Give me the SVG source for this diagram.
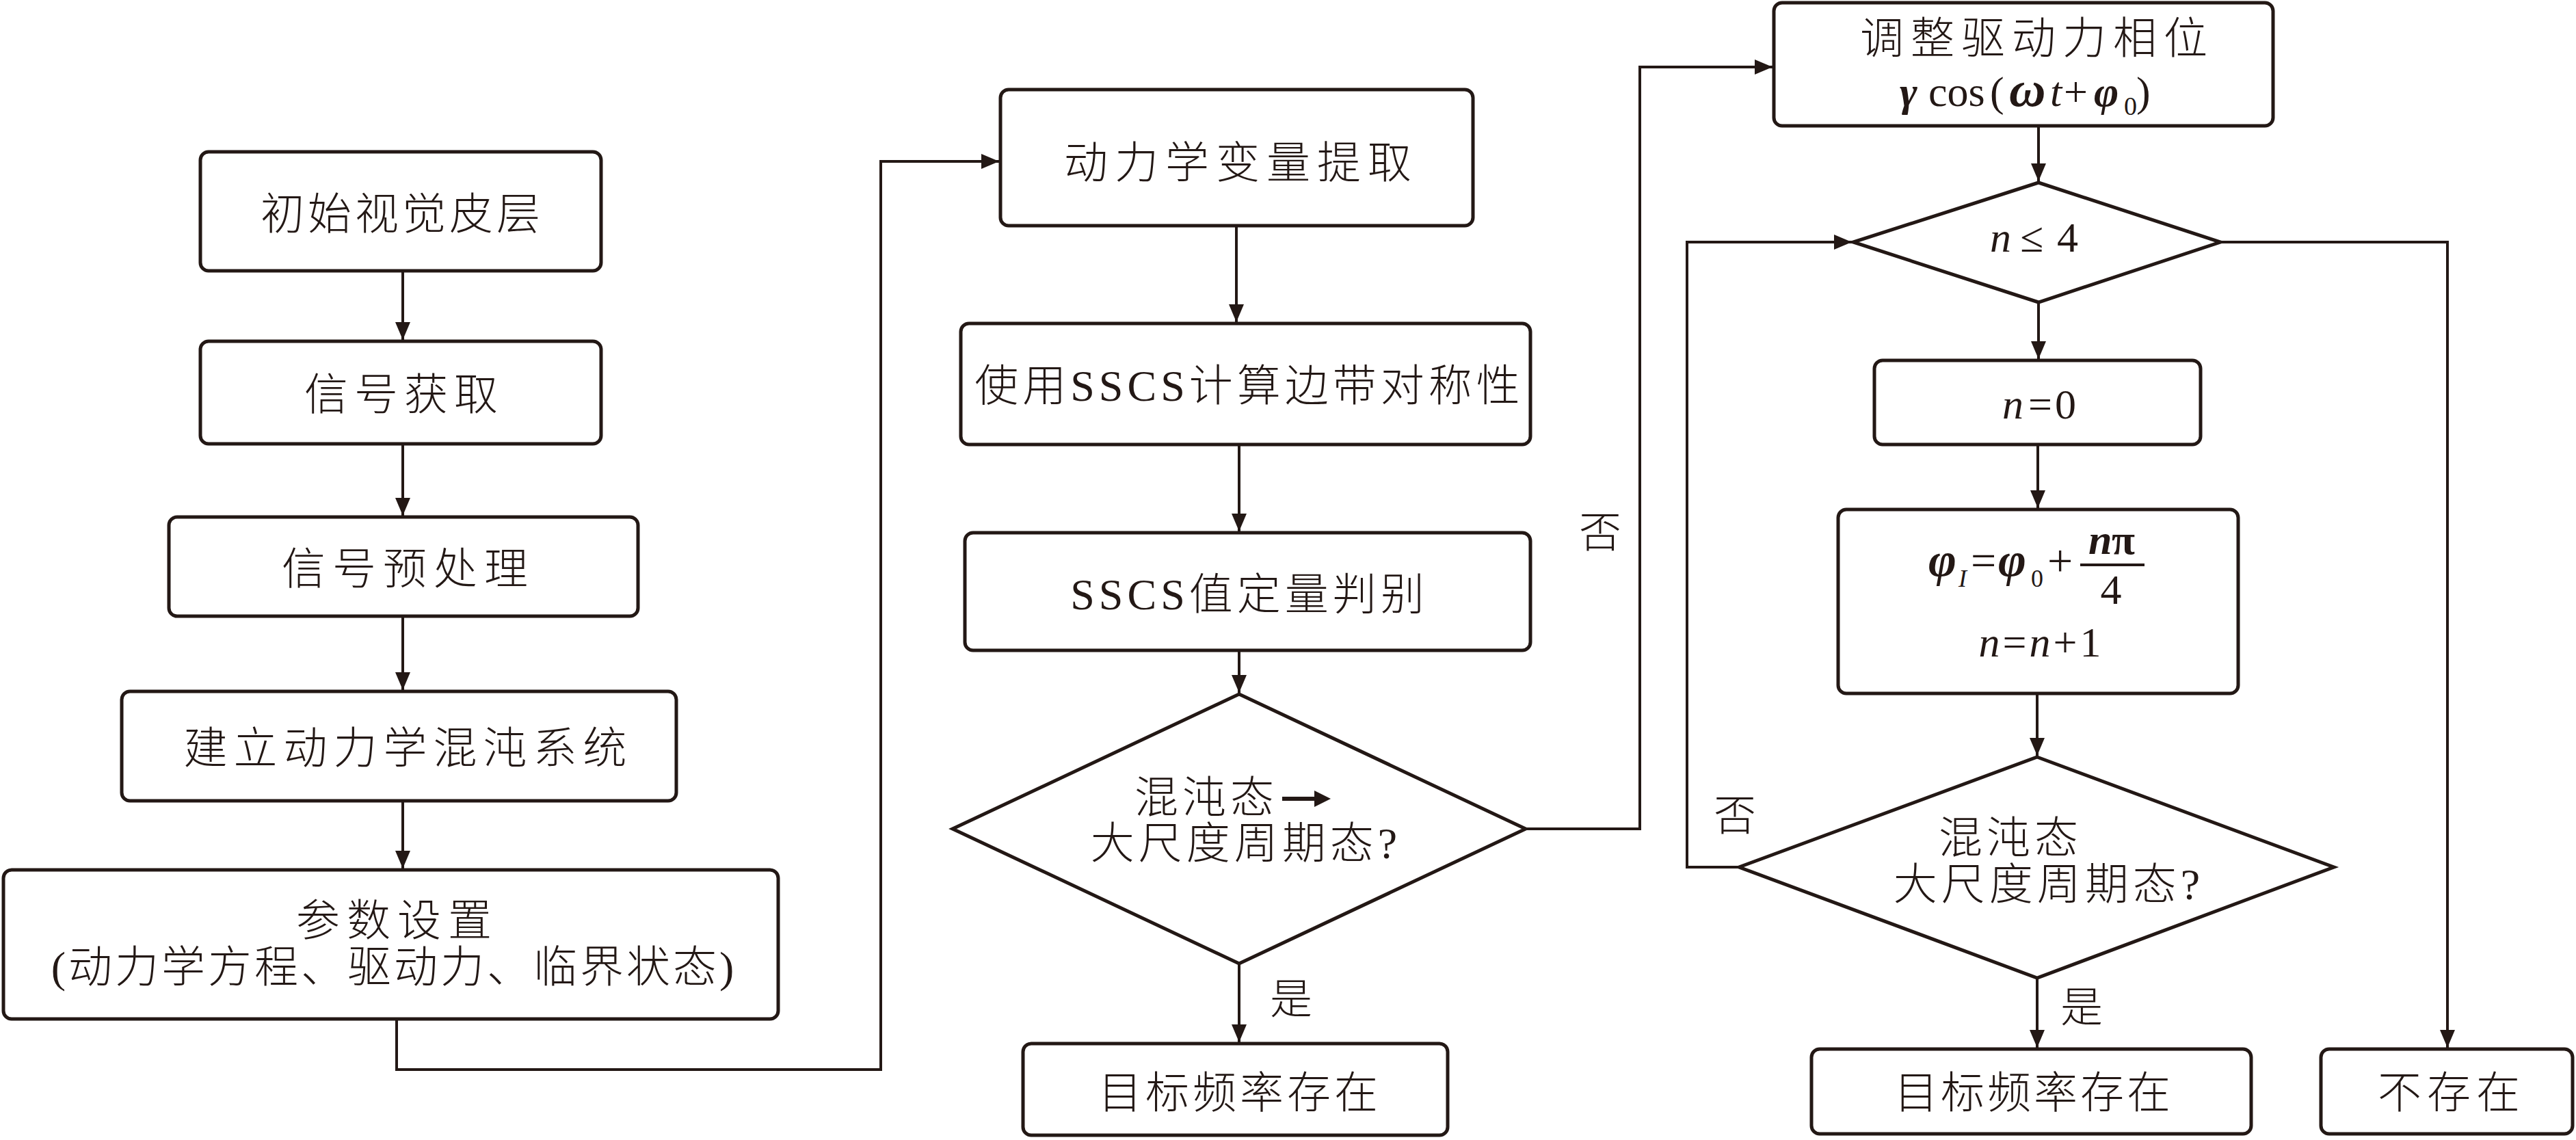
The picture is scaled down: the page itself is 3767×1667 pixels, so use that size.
<svg xmlns="http://www.w3.org/2000/svg" width="3767" height="1667" viewBox="0 0 3767 1667">
<defs>
<style>
.bx{fill:#fff;stroke:#231815;stroke-width:5}
.dm{fill:#fff;stroke:#231815;stroke-width:5;stroke-linejoin:miter}
.c{fill:none;stroke:#231815;stroke-width:4}
text{font-family:"Liberation Serif","Noto Sans CJK SC",serif;fill:#231815}
.t{font-size:64px;text-anchor:middle;font-weight:300}
.m{font-size:62px}
.i{font-style:italic}
.b{font-weight:bold}
.lb{font-size:62px;text-anchor:middle;font-weight:300}
</style>
<marker id="ah" viewBox="0 0 26 22" refX="26" refY="11" markerWidth="26" markerHeight="22" orient="auto" markerUnits="userSpaceOnUse">
<path d="M0,0 L26,11 L0,22 Z" fill="#231815"/>
</marker>
</defs>
<rect width="3767" height="1667" fill="#fff"/>

<g id="connectors" class="c" marker-end="url(#ah)">
<path d="M589,396 V497"/>
<path d="M589,649 V754"/>
<path d="M589,901 V1009"/>
<path d="M589,1171 V1270"/>
<path d="M580,1490 V1564 H1288 V236 H1461"/>
<path d="M1808,330 V471"/>
<path d="M1812,650 V777"/>
<path d="M1812,951 V1013"/>
<path d="M1812,1409 V1524"/>
<path d="M2231,1212 H2398 V98 H2592"/>
<path d="M2981,184 V265"/>
<path d="M2981,442 V525"/>
<path d="M2980,650 V743"/>
<path d="M2979,1014 V1105"/>
<path d="M2979,1430 V1532"/>
<path d="M2543,1268 H2467 V354 H2708"/>
<path d="M3247,354 H3579 V1532"/>
</g>

<g id="labels">
<text class="lb" x="2340" y="801">否</text>
<text class="lb" x="1888" y="1483">是</text>
<text class="lb" x="2537" y="1215">否</text>
<text class="lb" x="3044" y="1495">是</text>
</g>

<g id="n1"><rect class="bx" x="293" y="222" width="586" height="174" rx="12"/>
<text class="t" x="588" y="335" letter-spacing="5">初始视觉皮层</text></g>

<g id="n2"><rect class="bx" x="293" y="499" width="586" height="150" rx="12"/>
<text class="t" x="591" y="599" letter-spacing="9">信号获取</text></g>

<g id="n3"><rect class="bx" x="247" y="756" width="686" height="145" rx="12"/>
<text class="t" x="597" y="854" letter-spacing="10">信号预处理</text></g>

<g id="n4"><rect class="bx" x="178" y="1011" width="811" height="160" rx="12"/>
<text class="t" x="597" y="1116" letter-spacing="9">建立动力学混沌系统</text></g>

<g id="n5"><rect class="bx" x="5" y="1272" width="1133" height="218" rx="12"/>
<text class="t" x="581" y="1368" letter-spacing="10">参数设置</text>
<text class="t" x="576" y="1436" letter-spacing="4">(动力学方程、驱动力、临界状态)</text></g>

<g id="n6"><rect class="bx" x="1463" y="131" width="691" height="199" rx="12"/>
<text class="t" x="1815" y="260" letter-spacing="10">动力学变量提取</text></g>

<g id="n7"><rect class="bx" x="1405" y="473" width="833" height="177" rx="12"/>
<text class="t" x="1827" y="586" letter-spacing="6">使用SSCS计算边带对称性</text></g>

<g id="n8"><rect class="bx" x="1411" y="779" width="827" height="172" rx="12"/>
<text class="t" x="1827" y="891" letter-spacing="6">SSCS值定量判别</text></g>

<g id="n9"><polygon class="dm" points="1812,1015 2231,1212 1812,1409 1393,1212"/>
<text class="t" x="1764" y="1188" letter-spacing="6">混沌态</text>
<path d="M1875,1168 H1926" stroke="#231815" stroke-width="6"/>
<polygon points="1922,1156 1946,1168 1922,1180" fill="#231815"/>
<text class="t" x="1822" y="1255" letter-spacing="6">大尺度周期态?</text></g>

<g id="n10"><rect class="bx" x="1496" y="1526" width="621" height="134" rx="12"/>
<text class="t" x="1813" y="1620" letter-spacing="5">目标频率存在</text></g>

<g id="n11"><rect class="bx" x="2594" y="4" width="730" height="180" rx="12"/>
<text class="t" x="2979" y="78" letter-spacing="10">调整驱动力相位</text>
<text class="m" y="155" font-size="68"><tspan x="2778" class="i b">γ</tspan><tspan x="2820">cos</tspan><tspan x="2910">(</tspan><tspan x="2938" class="i b" font-size="74">ω</tspan><tspan x="2998" class="i">t</tspan><tspan x="3018">+</tspan><tspan x="3062" class="i b">φ</tspan><tspan x="3106" y="168" font-size="38">0</tspan><tspan x="3124" y="155">)</tspan></text></g>

<g id="n12"><polygon class="dm" points="2981,267 3247,354 2981,442 2710,354"/>
<text class="m" y="368" font-size="66"><tspan x="2910" class="i">n</tspan><tspan x="2954">≤</tspan><tspan x="3008">4</tspan></text></g>

<g id="n13"><rect class="bx" x="2741" y="527" width="477" height="123" rx="12"/>
<text class="m" y="612" font-size="64"><tspan x="2928" class="i">n</tspan><tspan x="2966">=</tspan><tspan x="3005">0</tspan></text></g>

<g id="n14"><rect class="bx" x="2688" y="745" width="585" height="269" rx="12"/>
<text class="m" y="842"><tspan x="2820" class="i b" font-size="70">φ</tspan><tspan x="2864" y="858" class="i" font-size="36">I</tspan><tspan x="2882" y="842" font-size="66">=</tspan><tspan x="2922" class="i b" font-size="70">φ</tspan><tspan x="2970" y="858" font-size="36">0</tspan><tspan x="2994" y="842" font-size="66">+</tspan></text>
<text class="m b" y="810" font-size="66"><tspan x="3054" class="i">n</tspan><tspan x="3088">π</tspan></text>
<line x1="3042" y1="826" x2="3136" y2="826" stroke="#231815" stroke-width="4"/>
<text class="m" x="3087" y="883" text-anchor="middle" font-size="52">4</text>
<text class="m" x="2985" y="960" text-anchor="middle" font-size="64" letter-spacing="4"><tspan class="i">n</tspan>=<tspan class="i">n</tspan>+1</text></g>

<g id="n15"><polygon class="dm" points="2979,1107 3413,1268 2979,1430 2543,1268"/>
<text class="t" x="2940" y="1247" letter-spacing="6">混沌态</text>
<text class="t" x="2996" y="1315" letter-spacing="6">大尺度周期态?</text></g>

<g id="n16"><rect class="bx" x="2649" y="1534" width="643" height="124" rx="12"/>
<text class="t" x="2974" y="1620" letter-spacing="4">目标频率存在</text></g>

<g id="n17"><rect class="bx" x="3394" y="1534" width="368" height="124" rx="12"/>
<text class="t" x="3585" y="1620" letter-spacing="8">不存在</text></g>
</svg>
